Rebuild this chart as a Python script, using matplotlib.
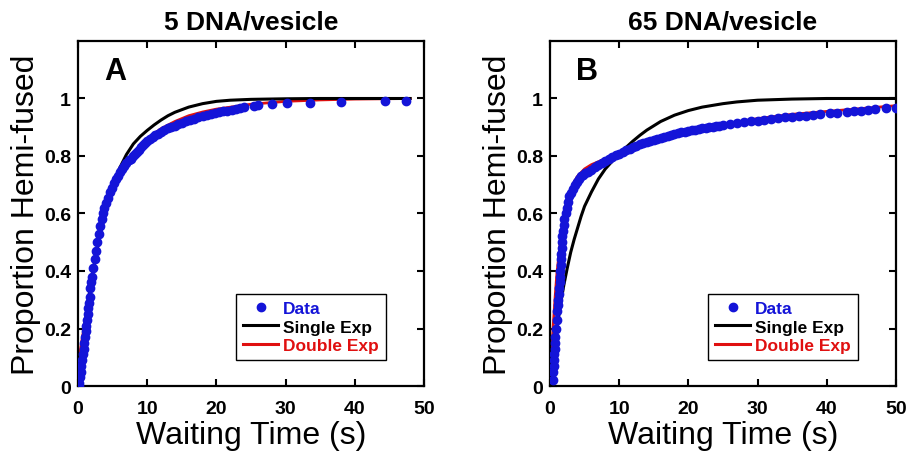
import matplotlib
matplotlib.use("Agg")
import matplotlib.pyplot as plt
from matplotlib.lines import Line2D

plt.rcParams['font.family'] = ['Liberation Sans', 'DejaVu Sans']

# ---------------- Panel A data (5 DNA/vesicle) ----------------
a_data_t = [0.1, 0.2, 0.3, 0.4, 0.5, 0.6, 0.7, 0.8, 0.9, 1.0, 1.1, 1.2, 1.3, 1.4, 1.5,
            1.6, 1.7, 1.8, 1.9, 2.0, 2.2, 2.4, 2.6, 2.8, 3.0, 3.2, 3.4, 3.6, 3.8, 4.0,
            4.3, 4.6, 4.9, 5.2, 5.5, 5.8, 6.1, 6.4, 6.7, 7.0, 7.3, 7.6, 7.9, 8.2, 8.5,
            8.8, 9.1, 9.4, 9.7, 10.0, 10.4, 10.8, 11.2, 11.6, 12.0, 12.5, 13.0, 13.5,
            14.0, 14.5, 15.0, 15.6, 16.2, 16.8, 17.4, 18.0, 18.6, 19.2, 19.8, 20.4,
            21.0, 21.6, 22.2, 22.8, 23.4, 24.0, 25.5, 26.0, 28.0, 30.2, 33.5, 38.0,
            44.3, 47.4]
a_data_y = [0.0, 0.01, 0.03, 0.05, 0.07, 0.09, 0.11, 0.13, 0.15, 0.17, 0.19, 0.21, 0.23,
            0.25, 0.27, 0.29, 0.31, 0.34, 0.36, 0.38, 0.41, 0.44, 0.47, 0.50, 0.53, 0.555,
            0.58, 0.60, 0.62, 0.635, 0.655, 0.675, 0.69, 0.705, 0.72, 0.73, 0.745, 0.755,
            0.765, 0.775, 0.785, 0.79, 0.80, 0.807, 0.815, 0.822, 0.83, 0.837, 0.845,
            0.852, 0.859, 0.866, 0.872, 0.878, 0.884, 0.89, 0.896, 0.90, 0.905, 0.91,
            0.915, 0.92, 0.925, 0.93, 0.935, 0.94, 0.943, 0.946, 0.949, 0.952, 0.955,
            0.958, 0.961, 0.964, 0.967, 0.97, 0.975, 0.977, 0.98, 0.983, 0.986, 0.988,
            0.99, 0.991]

a_single_t = [0, 0.5, 1, 1.5, 2, 2.5, 3, 3.5, 4, 4.5, 5, 6, 7, 8, 9, 10, 11, 12, 13, 14,
              16, 18, 20, 22, 25, 30, 35, 40, 48]
a_single_y = [0.0, 0.11, 0.21, 0.30, 0.375, 0.445, 0.505, 0.56, 0.61, 0.655, 0.695, 0.757,
              0.805, 0.842, 0.868, 0.889, 0.908, 0.925, 0.94, 0.952, 0.97, 0.982, 0.99,
              0.994, 0.997, 0.999, 1.0, 1.0, 1.0]

a_double_t = [0, 0.5, 1, 1.5, 2, 2.5, 3, 3.5, 4, 5, 6, 7, 8, 9, 10, 12, 14, 16, 18, 20,
              25, 30, 35, 40, 48]
a_double_y = [0.07, 0.15, 0.22, 0.30, 0.37, 0.44, 0.50, 0.56, 0.61, 0.68, 0.735, 0.775,
              0.81, 0.838, 0.86, 0.895, 0.92, 0.94, 0.953, 0.963, 0.98, 0.99, 0.995,
              0.998, 1.0]

# ---------------- Panel B data (65 DNA/vesicle) ----------------
b_data_t = [0.45, 0.5, 0.55, 0.6, 0.65, 0.7, 0.75, 0.8, 0.85, 0.95, 1.0, 1.1, 1.2, 1.25,
            1.3, 1.4, 1.45, 1.5, 1.55, 1.6, 1.65, 1.7, 1.75, 1.8, 1.9, 2.0, 2.1, 2.25,
            2.4, 2.6, 2.8, 3.0, 3.3, 3.6, 3.9, 4.2, 4.5, 4.8, 5.1, 5.5, 6.0, 6.5, 7.0,
            7.5, 8.0, 8.5, 9.0, 9.5, 10.0, 10.5, 11.0, 11.5, 12.0, 12.5, 13.0, 13.5,
            14.0, 14.5, 15.0, 15.5, 16.0, 16.5, 17.0, 17.5, 18.0, 18.5, 19.0, 19.5,
            20.0, 20.5, 21.0, 21.5, 22.0, 22.5, 23.0, 23.5, 24.0, 24.5, 25.0, 26.0,
            27.0, 28.0, 29.0, 30.0, 31.0, 32.0, 33.0, 34.0, 35.0, 36.0, 37.0, 38.0,
            39.0, 40.5, 41.5, 43.0, 44.0, 45.0, 46.0, 47.0, 48.5, 50.0]
b_data_y = [0.02, 0.05, 0.07, 0.09, 0.11, 0.13, 0.15, 0.17, 0.20, 0.23, 0.26, 0.28,
            0.30, 0.32, 0.34, 0.36, 0.38, 0.40, 0.42, 0.44, 0.46, 0.48, 0.50, 0.52,
            0.54, 0.56, 0.58, 0.60, 0.62, 0.64, 0.66, 0.67, 0.685, 0.70, 0.71, 0.72,
            0.73, 0.735, 0.74, 0.745, 0.753, 0.76, 0.767, 0.774, 0.781, 0.788, 0.795,
            0.802, 0.808, 0.814, 0.82, 0.825, 0.83, 0.835, 0.84, 0.844, 0.848, 0.852,
            0.856, 0.86, 0.864, 0.867, 0.87, 0.873, 0.876, 0.879, 0.882, 0.885, 0.888,
            0.89, 0.892, 0.894, 0.896, 0.898, 0.90, 0.902, 0.904, 0.906, 0.908, 0.911,
            0.914, 0.917, 0.92, 0.923, 0.926, 0.929, 0.932, 0.934, 0.936, 0.938, 0.94,
            0.943, 0.945, 0.948, 0.95, 0.953, 0.955, 0.958, 0.96, 0.962, 0.966, 0.968]

b_single_t = [0, 0.5, 1, 1.5, 2, 2.5, 3, 3.5, 4, 4.5, 5, 6, 7, 8, 9, 10, 11, 12, 13, 14,
              16, 18, 20, 22, 25, 27, 30, 35, 40, 50]
b_single_y = [0.0, 0.105, 0.20, 0.28, 0.35, 0.41, 0.465, 0.51, 0.55, 0.59, 0.625, 0.675,
              0.72, 0.755, 0.782, 0.805, 0.83, 0.852, 0.872, 0.89, 0.92, 0.942, 0.958,
              0.97, 0.982, 0.988, 0.994, 0.998, 1.0, 1.0]

b_double_t = [0, 0.25, 0.5, 0.75, 1, 1.5, 2, 2.5, 3, 3.5, 4, 5, 6, 8, 10, 12, 15, 20,
              25, 30, 35, 40, 45, 50]
b_double_y = [0.0, 0.12, 0.22, 0.31, 0.39, 0.50, 0.58, 0.64, 0.68, 0.71, 0.73, 0.755,
              0.77, 0.79, 0.81, 0.83, 0.855, 0.89, 0.91, 0.93, 0.945, 0.955, 0.965,
              0.975]

titles = ["5 DNA/vesicle", "65 DNA/vesicle"]
panel_letters = ["A", "B"]
legend_labels = ["Data", "Single Exp", "Double Exp"]
x_ticks = [0, 10, 20, 30, 40, 50]
y_ticks = [0, 0.2, 0.4, 0.6, 0.8, 1.0]
y_tick_labels = ["0", "0.2", "0.4", "0.6", "0.8", "1"]

BLUE = "#1414d8"
RED = "#e01010"

fig = plt.figure(figsize=(9.09, 4.52), dpi=100)
axA = fig.add_axes([0.0858, 0.1438, 0.3806, 0.7633])
axB = fig.add_axes([0.6050, 0.1438, 0.3806, 0.7633])

panels = [
    (axA, a_data_t, a_data_y, a_single_t, a_single_y, a_double_t, a_double_y),
    (axB, b_data_t, b_data_y, b_single_t, b_single_y, b_double_t, b_double_y),
]

for i, (ax, dt, dy, st, sy, qt, qy) in enumerate(panels):
    ax.plot(qt, qy, color=RED, lw=2.0, zorder=2)
    ax.plot(st, sy, color="black", lw=2.2, zorder=2)
    ax.plot(dt, dy, 'o', color=BLUE, ms=6, mec=BLUE, zorder=3)
    ax.set_xlim(0, 50)
    ax.set_ylim(0, 1.2)
    ax.set_xticks(x_ticks)
    ax.set_yticks(y_ticks)
    ax.set_yticklabels(y_tick_labels)
    ax.tick_params(direction='in', length=5, width=1.5, top=True, right=True,
                   labelsize=14)
    ax.tick_params(axis='x', pad=10)
    ax.tick_params(axis='y', pad=5)
    for lab in ax.get_xticklabels() + ax.get_yticklabels():
        lab.set_fontweight('bold')
    for sp in ax.spines.values():
        sp.set_linewidth(1.6)
    ax.set_title(titles[i], fontsize=19, fontweight='bold', pad=9)
    ax.set_xlabel("Waiting Time (s)", fontsize=23, labelpad=2)
    ax.set_ylabel("Proportion Hemi-fused", fontsize=23, labelpad=2)
    ax.text(0.075, 0.913, panel_letters[i], transform=ax.transAxes,
            fontsize=22, fontweight='bold', va='center', ha='left')

    handles = [
        Line2D([], [], ls='none', marker='o', color=BLUE, ms=6),
        Line2D([], [], color='black', lw=2.2),
        Line2D([], [], color=RED, lw=2.2),
    ]
    leg = ax.legend(handles, legend_labels, loc='lower right',
                    bbox_to_anchor=(0.89, 0.075),
                    prop={'weight': 'bold', 'size': 12.5},
                    labelspacing=0.2, handlelength=2.0, handletextpad=0.3,
                    borderpad=0.4, borderaxespad=0.0, fancybox=False,
                    framealpha=1, edgecolor='black')
    leg.get_frame().set_linewidth(1.0)
    for txt, c in zip(leg.get_texts(), [BLUE, 'black', RED]):
        txt.set_color(c)

fig.savefig("out.png", dpi=100)
